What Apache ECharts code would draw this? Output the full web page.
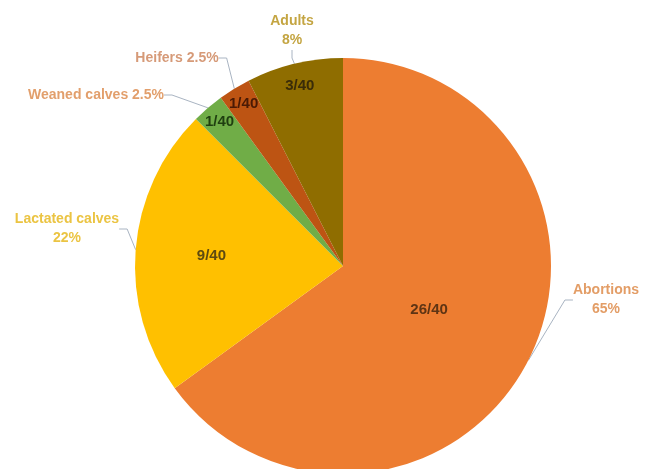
<!DOCTYPE html>
<html>
<head>
<meta charset="utf-8">
<title>Cases by category</title>
<script src="https://cdn.jsdelivr.net/npm/echarts@6/dist/echarts.min.js"></script>
<style>
  html, body { margin: 0; padding: 0; background: #fff; }
  #chart { width: 645px; height: 469px; }
</style>
</head>
<body>
<div id="chart"></div>
<script>
// data, clockwise from 12 o'clock
const categories = ['Abortions', 'Lactated calves', 'Weaned calves', 'Heifers', 'Adults']
const counts = [26, 9, 1, 1, 3]
const total = 40
const percentLabels = ['65%', '22%', '2.5%', '2.5%', '8%']

// styles
const sliceColors = ['#ED7D31', '#FFC000', '#70AD47', '#BD5413', '#8F6D00']
const outerLabelColors = ['#E39D66', '#EBC443', '#E29F6C', '#D69A78', '#C4A542']
const innerLabelColors = ['#5E3414', '#5E4A10', '#1F3F10', '#4A1A05', '#3A2C08']
const labelBreaks = ['\n', '\n', ' ', ' ', '\n']
const outerLabelPos = [[606, 300], [67, 229], [96, 95], [177, 58], [292, 31]]
// inner / outer radius (fraction of pie radius) of the ring whose middle holds each fraction label
const innerLabelRing = [[0, 0.9], [0.24, 1], [0.8, 1], [0.8, 1], [0.75, 1]]

const pieCenter = [343, 266]
const pieRadius = 208
const fontFamily = '"Liberation Sans", Arial, sans-serif'

const chart = echarts.init(document.getElementById('chart'))

const slices = categories.map((name, i) => ({
  name,
  value: counts[i],
  itemStyle: { color: sliceColors[i] },
  label: { color: outerLabelColors[i] },
}))

const series = [
  {
    type: 'pie',
    center: pieCenter,
    radius: pieRadius,
    startAngle: 90,
    clockwise: true,
    avoidLabelOverlap: false,
    silent: true,
    data: slices,
    itemStyle: { borderWidth: 0 },
    label: {
      show: true,
      position: 'outside',
      fontFamily,
      fontSize: 14,
      fontWeight: 'bold',
      lineHeight: 19,
      formatter: (p) => `${p.name}${labelBreaks[p.dataIndex]}${percentLabels[p.dataIndex]}`,
    },
    labelLine: {
      show: true,
      length: 10,
      length2: 8,
      lineStyle: { color: '#A9B4C2', width: 1 },
    },
    labelLayout: (params) => ({
      x: outerLabelPos[params.dataIndex][0],
      y: outerLabelPos[params.dataIndex][1],
      align: 'center',
      verticalAlign: 'middle',
    }),
  },
]

// one transparent ring per slice, only to place its fraction label
categories.forEach((name, k) => {
  series.push({
    type: 'pie',
    center: pieCenter,
    radius: [innerLabelRing[k][0] * pieRadius, innerLabelRing[k][1] * pieRadius],
    startAngle: 90,
    clockwise: true,
    silent: true,
    z: 3,
    itemStyle: { color: 'rgba(0,0,0,0)' },
    labelLine: { show: false },
    data: categories.map((n, i) => ({
      name: n,
      value: counts[i],
      label: {
        show: i === k,
        position: 'inside',
        color: innerLabelColors[i],
        fontFamily,
        fontSize: 15,
        fontWeight: 'bold',
        formatter: () => `${counts[i]}/${total}`,
      },
    })),
  })
})

chart.setOption({
  animation: false,
  backgroundColor: '#ffffff',
  series,
})
</script>
</body>
</html>
